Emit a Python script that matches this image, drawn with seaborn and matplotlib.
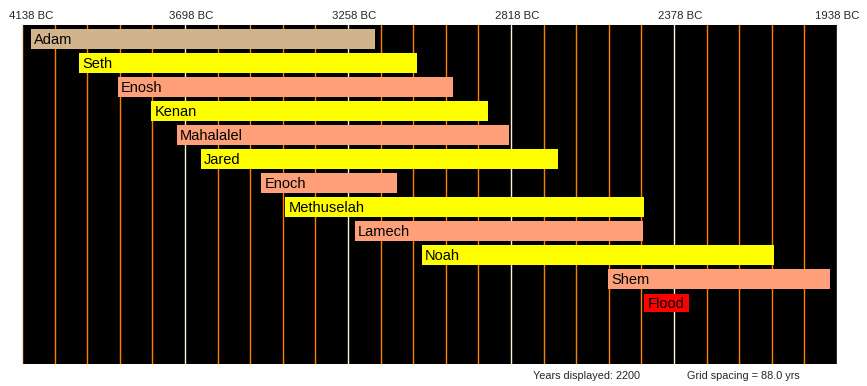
import matplotlib
matplotlib.use("Agg")
import matplotlib.pyplot as plt
import matplotlib.transforms as mtransforms
import seaborn as sns
import pandas as pd

# lifespans, years BC (Ussher-style, creation ~4114 BC)
names = ["Adam", "Seth", "Enosh", "Kenan", "Mahalalel", "Jared", "Enoch",
         "Methuselah", "Lamech", "Noah", "Shem", "Flood"]
born_bc = [4114, 3984, 3879, 3789, 3719, 3654, 3492, 3427, 3240, 3058, 2556, 2458]
died_bc = [3184, 3072, 2974, 2879, 2824, 2692, 3127, 2458, 2463, 2108, 1956, 2338]
colors = ["#D2B48C", "#FFFF00", "#FFA07A", "#FFFF00", "#FFA07A", "#FFFF00",
          "#FFA07A", "#FFFF00", "#FFA07A", "#FFFF00", "#FFA07A", "#FF0000"]

start_bc, end_bc, grid_step = 4138, 1938, 88
tick_bc = [4138, 3698, 3258, 2818, 2378, 1938]

df = pd.DataFrame({"name": names,
                   "left": [-b for b in born_bc],
                   "span": [b - d for b, d in zip(born_bc, died_bc)]})

sns.set_theme(style="white")
plt.rcParams["font.family"] = ["Liberation Sans", "DejaVu Sans"]

fig = plt.figure(figsize=(8.67, 3.86), dpi=100)
ax = fig.add_axes([22 / 867, 22 / 386, 815 / 867, 339 / 386])
ax.set_facecolor("black")

# grid lines every 88 years, lighter every 440
n_lines = (start_bc - end_bc) // grid_step
for k in range(n_lines + 1):
    yr = start_bc - k * grid_step
    if k == 0 or k == n_lines:
        c = "#FFD9A0"
    elif k % 5 == 0:
        c = "#FFF0D8"
    else:
        c = "#FF8000"
    ax.axvline(-yr, color=c, lw=1.0, zorder=0)

sns.barplot(data=df, x="span", y="name", orient="y", left=df["left"].values,
            width=0.83, errorbar=None, color="#FFFF00", linewidth=0,
            ax=ax, zorder=2)

bars = ax.containers[0]
for patch, col in zip(bars, colors):
    patch.set_facecolor(col)
    patch.set_edgecolor("none")
flood = bars[-1]
flood.set_y(11 - 0.375)
flood.set_height(0.75)

for i, (n, b) in enumerate(zip(names, born_bc)):
    ax.text(-b + 8, i + 0.03, n, va="center", ha="left", fontsize=10.5,
            color="black", zorder=3)

ax.set_xlim(-start_bc, -end_bc)
ax.set_ylim(13.55, -0.575)
ax.set_yticks([])
ax.set_ylabel("")
ax.set_xlabel("")
ax.xaxis.tick_top()
ax.set_xticks([-t for t in tick_bc])
ax.set_xticklabels([f"{t} BC" for t in tick_bc], fontsize=8.2)
ax.tick_params(axis="x", length=0, pad=3)
# labels sit a little right of their grid line, as in the original
for j, lab in enumerate(ax.get_xticklabels()):
    dx = 9 if j == 0 else (0 if j == len(tick_bc) - 1 else 6)
    lab.set_transform(lab.get_transform() +
                      mtransforms.ScaledTranslation(dx / 100, 0, fig.dpi_scale_trans))
for s in ax.spines.values():
    s.set_visible(False)

fig.text(533 / 867, 10 / 386, f"Years displayed: {start_bc - end_bc}",
         fontsize=7.8, va="center", ha="left")
fig.text(687 / 867, 10 / 386, f"Grid spacing = {grid_step:.1f} yrs",
         fontsize=7.8, va="center", ha="left")

fig.savefig("out.png", dpi=100, facecolor="white")
